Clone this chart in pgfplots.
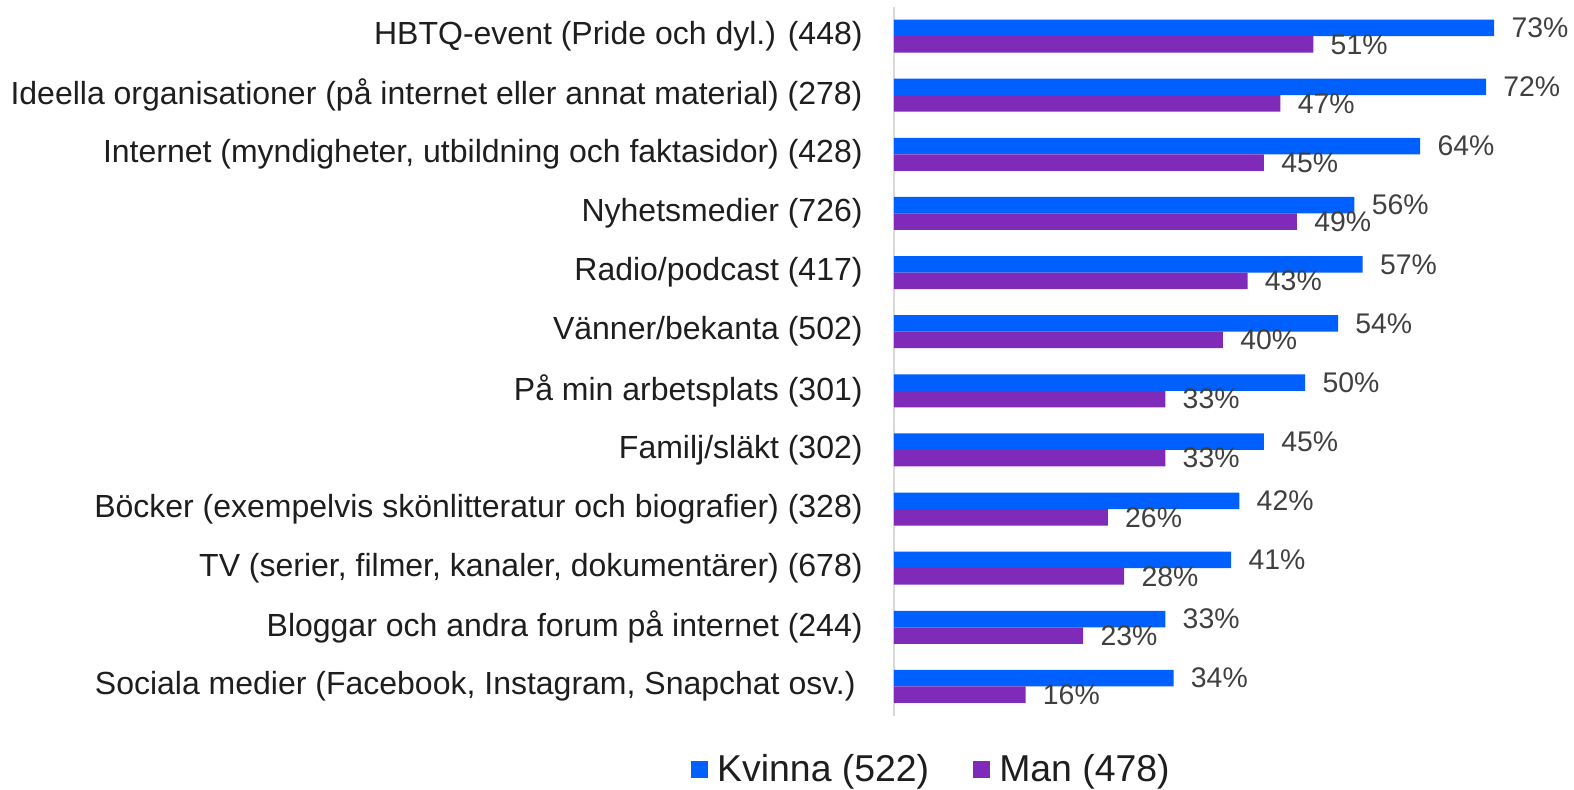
\documentclass[border=0pt]{standalone}
\usepackage{pgfplots}
\pgfplotsset{compat=1.18}
\usepackage{fontspec}
\setmainfont{Liberation Sans}
\definecolor{kv}{RGB}{0,96,255}
\definecolor{mn}{RGB}{127,42,184}
\definecolor{lbl}{RGB}{64,64,64}
\definecolor{txt}{RGB}{30,30,30}
\definecolor{axl}{RGB}{217,217,217}
\begin{document}
\begin{tikzpicture}
\useasboundingbox (-447pt,-36.5pt) rectangle (340pt,358pt);
\begin{axis}[
  scale only axis,
  width=340pt, height=354.75pt,
  xbar, bar width=8.25pt,
  xmin=0, xmax=82.7, ymin=-0.5, ymax=11.5,
  axis x line=none,
  axis y line*=left,
  y axis line style={draw=axl, line width=0.75pt},
  ytick={0,...,11},
  major tick length=0pt,
  yticklabels={
    {Sociala medier (Facebook, Instagram, Snapchat osv.)\kern3.5pt},
    {Bloggar och andra forum på internet (244)},
    {TV (serier, filmer, kanaler, dokumentärer) (678)},
    {Böcker (exempelvis skönlitteratur och biografier) (328)},
    {Familj/släkt (302)},
    {På min arbetsplats (301)},
    {Vänner/bekanta (502)},
    {Radio/podcast (417)},
    {Nyhetsmedier (726)},
    {Internet (myndigheter, utbildning och faktasidor) (428)},
    {Ideella organisationer (på internet eller annat material) (278)},
    {HBTQ-event (Pride och dyl.) (448)}},
  yticklabel style={font=\fontsize{16pt}{19pt}\selectfont, text=txt, inner sep=0pt, xshift=-15.5pt, anchor=east},
  nodes near coords={\pgfmathprintnumber[assume math mode=true]{\pgfplotspointmeta}\%},
  every node near coord/.append style={font=\fontsize{14.2pt}{16pt}\selectfont, text=lbl, anchor=west, inner sep=0pt, xshift=8.5pt},
  clip=false,
  legend columns=2,
  legend style={at={(0.0566,-0.0747)}, anchor=center, draw=none, fill=none,
    font=\fontsize{18.7pt}{22pt}\selectfont, text=txt,
    /tikz/every even column/.append style={column sep=20pt},
    inner sep=0pt},
  legend image code/.code={\fill[#1] (0pt,-4.25pt) rectangle (8.5pt,4.25pt); \path (11pt,0pt);},
]
\addplot[fill=kv, draw=none, bar shift=4.125pt] coordinates {
  (34,0) (33,1) (41,2) (42,3) (45,4) (50,5) (54,6) (57,7) (56,8) (64,9) (72,10) (73,11)};
\addlegendentry{Kvinna (522)}
\addplot[fill=mn, draw=none, bar shift=-4.125pt] coordinates {
  (16,0) (23,1) (28,2) (26,3) (33,4) (33,5) (40,6) (43,7) (49,8) (45,9) (47,10) (51,11)};
\addlegendentry{Man (478)}
\end{axis}
\end{tikzpicture}
\end{document}
